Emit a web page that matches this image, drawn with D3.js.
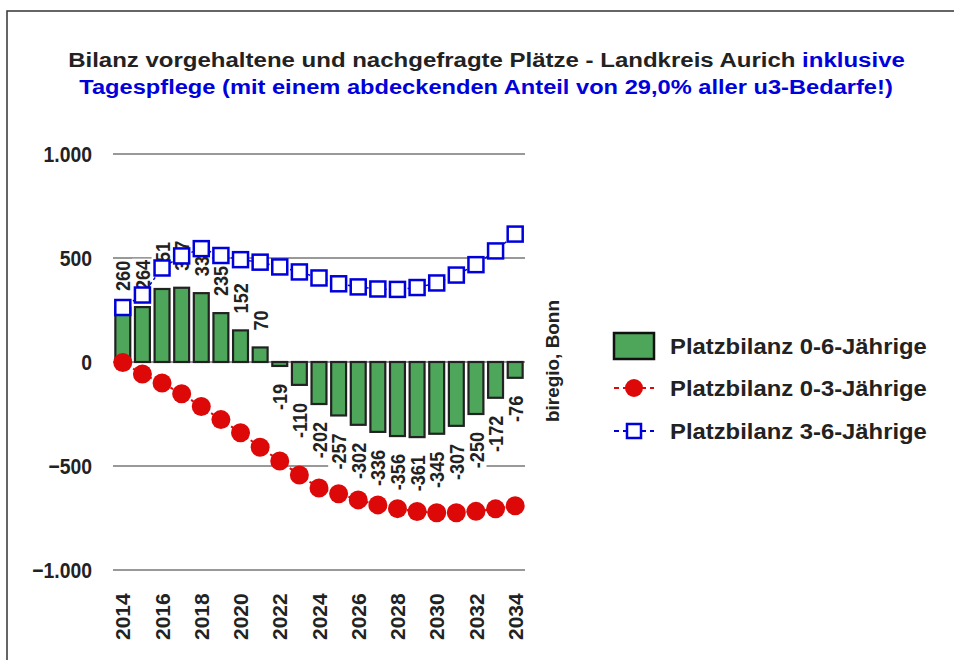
<!DOCTYPE html>
<html><head><meta charset="utf-8">
<script src="https://cdn.jsdelivr.net/npm/d3@7"></script>
<style>
html,body{margin:0;padding:0;background:#fff;}
svg text{font-family:"Liberation Sans",Arial,sans-serif;font-weight:bold;}
</style></head>
<body>
<svg id="chart" width="954" height="660"></svg>
<script>
const years = [2014,2015,2016,2017,2018,2019,2020,2021,2022,2023,2024,2025,2026,2027,2028,2029,2030,2031,2032,2033,2034];
const bilanz06 = [260,264,351,357,331,235,152,70,-19,-110,-202,-257,-302,-336,-356,-361,-345,-307,-250,-172,-76];
const bilanz03 = [-2,-58,-101,-153,-214,-277,-340,-410,-476,-543,-606,-633,-663,-687,-705,-719,-725,-725,-718,-706,-691];
const bilanz36 = [262,322,452,510,545,512,492,480,457,433,404,376,361,351,349,358,380,418,468,534,615];
const yTicks = [1000,500,0,-500,-1000];
const xTickYears = [2014,2016,2018,2020,2022,2024,2026,2028,2030,2032,2034];
const titleLine1Black = "Bilanz vorgehaltene und nachgefragte Plätze - Landkreis Aurich ";
const titleLine1Blue = "inklusive";
const titleLine2 = "Tagespflege (mit einem abdeckenden Anteil von 29,0% aller u3-Bedarfe!)";
const legendLabels = ["Platzbilanz 0-6-Jährige","Platzbilanz 0-3-Jährige","Platzbilanz 3-6-Jährige"];
const sourceText = "biregio, Bonn";

const green = "#4ea65a", red = "#dd0909", blue = "#0000dd", dark = "#222";
const svg = d3.select("#chart");

function fit(sel, factor){
  sel.each(function(){
    const w = this.getComputedTextLength();
    d3.select(this).attr("textLength", w*factor).attr("lengthAdjust","spacingAndGlyphs");
  });
  return sel;
}
// horizontally scale a text (placed at 0,0) to a target width, positioned at (tx,ty)
function scaleTo(t, target, tx, ty, rot){
  const w = t.node().getComputedTextLength();
  const s = target / w;
  t.attr("transform", `translate(${tx},${ty})` + (rot?` rotate(${rot})`:"") + ` scale(${s},1)`);
}

// frame
svg.append("path").attr("d","M7,660 L7,11 L954,11").attr("fill","none").attr("stroke","#333").attr("stroke-width",1.5);

// title
const t1 = svg.append("text").attr("text-anchor","middle").attr("font-size",21);
t1.append("tspan").attr("fill","#222").text(titleLine1Black);
t1.append("tspan").attr("fill",blue).text(titleLine1Blue);
scaleTo(t1, 837, 486.5, 67);
const t2 = svg.append("text").attr("text-anchor","middle").attr("font-size",21).attr("fill",blue).text(titleLine2);
scaleTo(t2, 814, 486, 94);

const x = d3.scaleBand().domain(years).range([113,525]).paddingInner(0.24).paddingOuter(0.12);
const y = d3.scaleLinear().domain([-1000,1000]).range([570,154]);
const cx = d => x(d) + x.bandwidth()/2;

// gridlines
svg.append("g").selectAll("line").data(yTicks).join("line")
  .attr("x1",113).attr("x2",525).attr("y1",d=>y(d)).attr("y2",d=>y(d))
  .attr("stroke","#333").attr("stroke-width",1);

// y axis labels
const fmt = d => d3.format(",")(d).replace(/,/g,".");
fit(svg.append("g").selectAll("text").data(yTicks).join("text")
  .attr("x",92).attr("y",d=>y(d)).attr("dy","0.36em").attr("text-anchor","end")
  .attr("font-size",22).attr("fill","#222").text(fmt), 0.88);

// x axis labels
svg.append("g").selectAll("text").data(xTickYears).join("text")
  .attr("transform",d=>`translate(${cx(d)},640) rotate(-90)`)
  .attr("dy","0.36em").attr("text-anchor","start").attr("font-size",21)
  .attr("fill","#222").text(d=>d);

// bars
svg.append("g").selectAll("rect").data(years).join("rect")
  .attr("x",d=>x(d)).attr("width",x.bandwidth())
  .attr("y",(d,i)=>y(Math.max(0,bilanz06[i])))
  .attr("height",(d,i)=>Math.abs(y(bilanz06[i])-y(0)))
  .attr("fill",green).attr("stroke",dark).attr("stroke-width",2.2);

// bar labels
const lg = svg.append("g");
years.forEach((yr,i)=>{
  const v = bilanz06[i];
  const pos = v>=0;
  const py = pos ? y(v)-17 : y(v)+18;
  const g = lg.append("g").attr("transform",`translate(${cx(yr)},${py}) rotate(-90)`);
  const t = g.append("text").attr("text-anchor",pos?"start":"end").attr("dy","0.36em")
    .attr("font-size",21).attr("fill","#222").text(v);
  fit(t, 0.86);
  const bb = t.node().getBBox();
  g.insert("rect","text").attr("x",bb.x-1).attr("y",bb.y+1).attr("width",bb.width+2).attr("height",bb.height-2).attr("fill","#fff");
});

// lines
const line = d3.line().x((d,i)=>cx(years[i])).y(d=>y(d));
svg.append("path").datum(bilanz03).attr("d",line).attr("fill","none").attr("stroke",red).attr("stroke-width",2).attr("stroke-dasharray","3,3");
svg.append("path").datum(bilanz36).attr("d",line).attr("fill","none").attr("stroke",blue).attr("stroke-width",1.5).attr("stroke-dasharray","3,3");

// markers
svg.append("g").selectAll("circle").data(bilanz03).join("circle")
  .attr("cx",(d,i)=>cx(years[i])).attr("cy",d=>y(d)).attr("r",9.5).attr("fill",red);
svg.append("g").selectAll("rect").data(bilanz36).join("rect")
  .attr("x",(d,i)=>cx(years[i])-7.5).attr("y",d=>y(d)-7.5).attr("width",15).attr("height",15)
  .attr("fill","#fff").attr("stroke",blue).attr("stroke-width",2.5);

// source
const src = svg.append("text").attr("text-anchor","middle").attr("dy","0.35em")
  .attr("font-size",18).attr("fill","#222").text(sourceText);
scaleTo(src, 122, 553, 361, -90);

// legend
const leg = svg.append("g");
const rowY = [346,388,431];
leg.append("rect").attr("x",614).attr("y",333).attr("width",40).attr("height",26).attr("fill",green).attr("stroke","#111").attr("stroke-width",2.5);
leg.append("line").attr("x1",614).attr("x2",654).attr("y1",rowY[1]).attr("y2",rowY[1]).attr("stroke",red).attr("stroke-width",2).attr("stroke-dasharray","5,4");
leg.append("circle").attr("cx",634).attr("cy",rowY[1]).attr("r",9).attr("fill",red);
leg.append("line").attr("x1",614).attr("x2",654).attr("y1",rowY[2]).attr("y2",rowY[2]).attr("stroke",blue).attr("stroke-width",2).attr("stroke-dasharray","5,4");
leg.append("rect").attr("x",627).attr("y",rowY[2]-7).attr("width",14).attr("height",14).attr("fill","#fff").attr("stroke",blue).attr("stroke-width",2.5);
legendLabels.forEach((d,i)=>{
  const t = leg.append("text").attr("dy","0.35em").attr("font-size",22).attr("fill","#222").text(d);
  scaleTo(t, 257, 670, rowY[i]);
});
</script>
</body></html>
